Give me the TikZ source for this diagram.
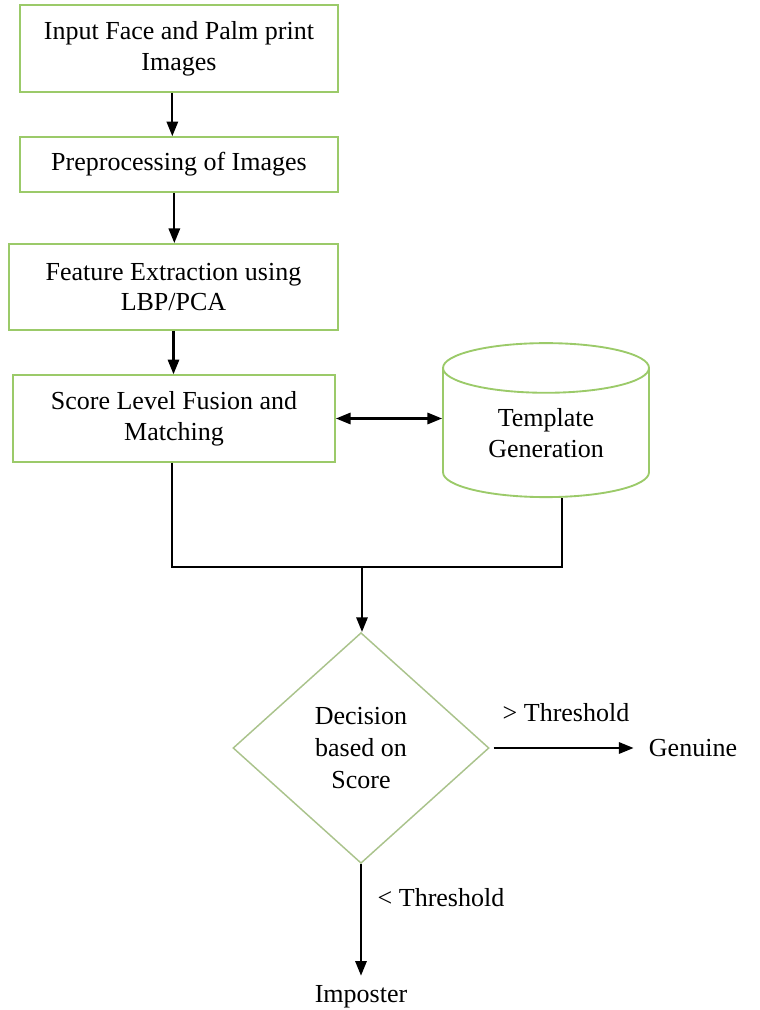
\documentclass[tikz,border=0pt]{standalone}
\usepackage{fontspec}
\setmainfont{Liberation Serif}
\usetikzlibrary{shapes.geometric,arrows.meta}
\definecolor{boxgreen}{RGB}{155,202,105}
\definecolor{diagreen}{RGB}{170,195,140}

\begin{document}
\begin{tikzpicture}[x=0.75pt,y=-0.75pt,
  every node/.style={font=\fontsize{19.5}{23}\selectfont},
  stage/.style={draw=boxgreen,line width=1.4pt,align=center,inner sep=0pt},
  arr/.style={-{Triangle[length=11pt,width=8.5pt]},line width=1.6pt},
  link/.style={line width=1pt}]
\useasboundingbox (0,0) rectangle (760,1010);
% processing stages
\node[stage,minimum width=238.5pt,minimum height=65pt] (input) at (179,48.5) {Input Face and Palm print\\Images};
\node[stage,minimum width=238.5pt,minimum height=41pt] (prep) at (179,164.5) {Preprocessing of Images};
\node[stage,minimum width=246.5pt,minimum height=64.5pt] (feat) at (173.5,287) {Feature Extraction using\\LBP/PCA};
\node[stage,minimum width=241.5pt,minimum height=65pt] (score) at (174,418.5) {Score Level Fusion and\\Matching};
\node[stage,cylinder,shape border rotate=90,aspect=0.43,minimum width=154.5pt,minimum height=115.5pt] (tmpl) at (546,433) {Template\\Generation};
% decision
\node[stage,draw=diagreen,line width=1.1pt,diamond,aspect=1.108,minimum width=192pt,minimum height=173pt,
  font=\fontsize{19.5}{24}\selectfont] (dec) at (361,748) {Decision\\based on\\Score};
\node (gen) at (693,748) {Genuine};
\node (imp) at (361,997) {Imposter};
\node (gt) at (566,713) {> Threshold};
\node (lt) at (441,898) {< Threshold};
\coordinate (join) at (362,567);
% connectors
\draw[arr] ([xshift=-5pt]input.south) -- ([xshift=-5pt]input.south |- prep.north);
\draw[arr] ([xshift=-3.5pt]prep.south) -- ([xshift=-3.5pt]prep.south |- feat.north);
\draw[arr] (feat.south) -- (feat.south |- score.north);
\draw[arr,{Triangle[length=11pt,width=8.5pt]}-{Triangle[length=11pt,width=8.5pt]}] (score.east) -- (score.east -| tmpl.west);
\draw[link] ([xshift=-1.5pt]score.south) |- (join) -| ([xshift=12pt]tmpl.south);
\draw[arr] (join) -- (join |- dec.north);
\draw[arr,shorten <=3pt,shorten >=8pt] (dec.east) -- (dec.east -| gen.west);
\draw[arr,shorten >=4pt] (dec.south) -- (imp.north);
\end{tikzpicture}
\end{document}
